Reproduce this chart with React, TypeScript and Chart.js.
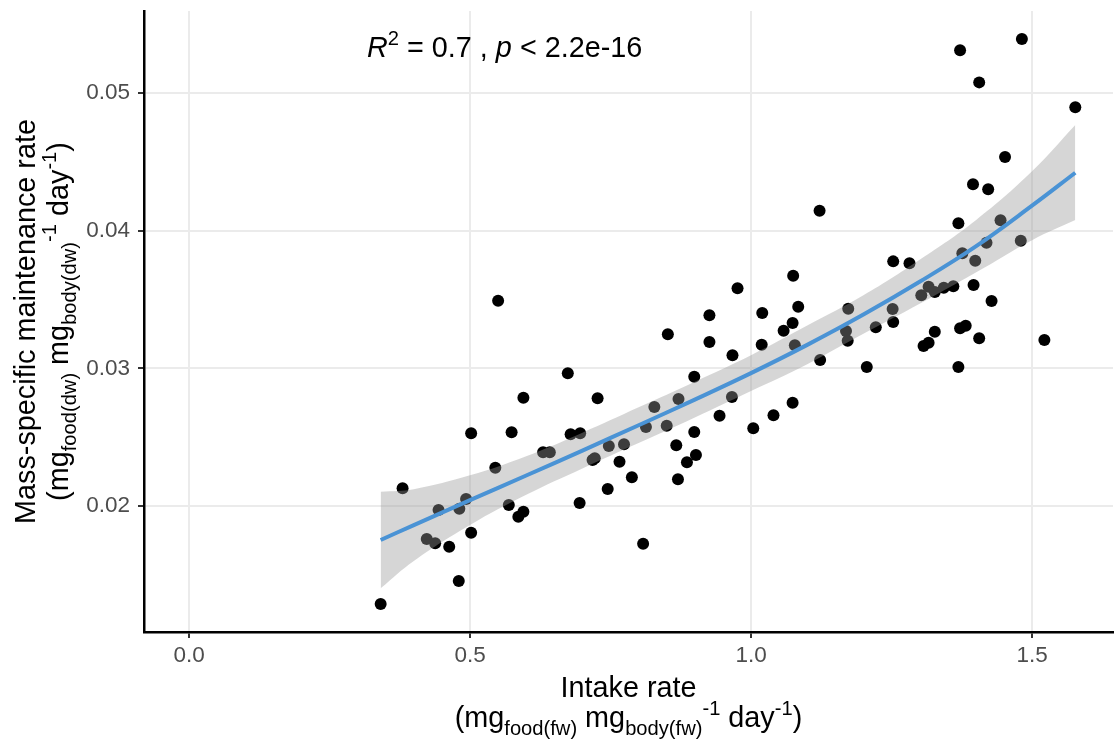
import React, { useEffect, useRef } from 'react';
import { Chart, registerables } from 'chart.js';

Chart.register(...registerables);

// ---- Data ----
const intakeRate = [
  0.341, 0.380, 0.423, 0.438, 0.444, 0.463, 0.480, 0.481, 0.493, 0.502,
  0.502, 0.545, 0.550, 0.569, 0.574, 0.586, 0.595, 0.595, 0.630, 0.642,
  0.674, 0.679, 0.696, 0.695, 0.718, 0.722, 0.727, 0.745, 0.747, 0.766,
  0.774, 0.788, 0.808, 0.813, 0.828, 0.850, 0.852, 0.867, 0.870, 0.871,
  0.886, 0.899, 0.899, 0.902, 0.926, 0.926, 0.944, 0.966, 0.967, 0.976,
  1.004, 1.019, 1.020, 1.040, 1.058, 1.074, 1.074, 1.075, 1.078, 1.084,
  1.122, 1.123, 1.169, 1.172, 1.173, 1.206, 1.222, 1.252, 1.253, 1.253,
  1.282, 1.303, 1.307, 1.316, 1.316, 1.327, 1.327, 1.343, 1.360, 1.369,
  1.369, 1.372, 1.372, 1.376, 1.382, 1.395, 1.396, 1.399, 1.406, 1.406,
  1.419, 1.422, 1.428, 1.444, 1.452, 1.480, 1.482, 1.522, 1.577,
];

const maintenanceRate = [
  0.01290, 0.02129, 0.01761, 0.01730, 0.01972, 0.01705, 0.01456, 0.01981, 0.02052, 0.02528,
  0.01807, 0.02279, 0.03491, 0.02008, 0.02536, 0.01923, 0.01959, 0.02787, 0.02390, 0.02390,
  0.02964, 0.02521, 0.02528, 0.02022, 0.02335, 0.02347, 0.02782, 0.02124, 0.02436, 0.02322,
  0.02448, 0.02209, 0.01727, 0.02574, 0.02719, 0.02583, 0.03247, 0.02441, 0.02194, 0.02777,
  0.02318, 0.02538, 0.02939, 0.02371, 0.03385, 0.03191, 0.02656, 0.02792, 0.03094, 0.03581,
  0.02565, 0.03171, 0.03401, 0.02659, 0.03273, 0.03329, 0.02750, 0.03672, 0.03167, 0.03447,
  0.04144, 0.03060, 0.03271, 0.03200, 0.03433, 0.03009, 0.03298, 0.03430, 0.03336, 0.03776,
  0.03762, 0.03530, 0.03162, 0.03186, 0.03592, 0.03554, 0.03266, 0.03585, 0.03595, 0.04052,
  0.03009, 0.05308, 0.03290, 0.03835, 0.03309, 0.04335, 0.03605, 0.03781, 0.05075, 0.03218,
  0.03911, 0.04299, 0.03488, 0.04074, 0.04533, 0.03926, 0.05390, 0.03205, 0.04894,
];

// smooth fit and its confidence band
const fitX = [0.341, 0.4, 0.5, 0.6, 0.7, 0.8, 0.9, 1.0, 1.1, 1.2, 1.3, 1.4, 1.5, 1.577];
const fitY = [0.01754, 0.01862, 0.02043, 0.02222, 0.02403, 0.02587, 0.02773, 0.02965, 0.03170, 0.03390, 0.03628, 0.03885, 0.04180, 0.04419];
const fitUpper = [0.02104, 0.02123, 0.02223, 0.02362, 0.02533, 0.02717, 0.02903, 0.03095, 0.03310, 0.03530, 0.03788, 0.04075, 0.04430, 0.04766];
const fitLower = [0.01404, 0.01602, 0.01863, 0.02082, 0.02273, 0.02457, 0.02643, 0.02835, 0.03030, 0.03250, 0.03468, 0.03695, 0.03930, 0.04076];

const xTicks = [0.0, 0.5, 1.0, 1.5];
const yTicks = [0.02, 0.03, 0.04, 0.05];
const xRange = [-0.0801, 1.6441];
const yRange = [0.010863, 0.05593];

const annotationPos = { x: 0.3167, y: 0.0526 };

const FAMILY = '"Liberation Sans", Arial, Helvetica, sans-serif';
const TITLE_SIZE = 28.8;
const TICK_SIZE = 22.5;

type Seg = { t: string; it?: boolean; s?: 'sub' | 'sup' };

const annotationSegs: Seg[] = [
  { t: 'R', it: true },
  { t: '2', s: 'sup' },
  { t: ' = 0.7 , ' },
  { t: 'p', it: true },
  { t: ' < 2.2e-16' },
];
const xTitle1: Seg[] = [{ t: 'Intake rate' }];
const xTitle2: Seg[] = [
  { t: '(mg' }, { t: 'food(fw)', s: 'sub' }, { t: ' mg' }, { t: 'body(fw)', s: 'sub' },
  { t: '-1', s: 'sup' }, { t: ' day' }, { t: '-1', s: 'sup' }, { t: ')' },
];
const yTitle1: Seg[] = [{ t: 'Mass-specific maintenance rate' }];
const yTitle2: Seg[] = [
  { t: '(mg' }, { t: 'food(dw)', s: 'sub' }, { t: ' mg' }, { t: 'body(dw)', s: 'sub' },
  { t: '-1', s: 'sup' }, { t: ' day' }, { t: '-1', s: 'sup' }, { t: ')' },
];

function fontFor(seg: Seg, F: number) {
  const size = seg.s ? F * 0.7 : F;
  return `${seg.it ? 'italic ' : ''}${size}px ${FAMILY}`;
}

function richWidth(ctx: CanvasRenderingContext2D, segs: Seg[], F: number) {
  let w = 0;
  for (const s of segs) {
    ctx.font = fontFor(s, F);
    w += ctx.measureText(s.t).width;
  }
  return w;
}

function drawRich(ctx: CanvasRenderingContext2D, segs: Seg[], F: number, x: number, y: number, align: 'center' | 'left') {
  const w = richWidth(ctx, segs, F);
  let cx = align === 'center' ? x - w / 2 : x;
  ctx.textBaseline = 'alphabetic';
  ctx.textAlign = 'left';
  for (const s of segs) {
    ctx.font = fontFor(s, F);
    const dy = s.s === 'sub' ? F * 0.28 : s.s === 'sup' ? -F * 0.42 : 0;
    ctx.fillText(s.t, cx, y + dy);
    cx += ctx.measureText(s.t).width;
  }
}

const titlesPlugin = {
  id: 'richTitles',
  afterDraw(chart: any) {
    const { ctx, chartArea, scales } = chart;
    ctx.save();
    ctx.fillStyle = '#000000';
    const cxMid = (chartArea.left + chartArea.right) / 2;
    const cyMid = (chartArea.top + chartArea.bottom) / 2;
    // x title
    drawRich(ctx, xTitle1, TITLE_SIZE, cxMid, chartArea.bottom + 65, 'center');
    drawRich(ctx, xTitle2, TITLE_SIZE, cxMid, chartArea.bottom + 95, 'center');
    // y title
    ctx.save();
    ctx.translate(35, cyMid);
    ctx.rotate(-Math.PI / 2);
    drawRich(ctx, yTitle1, TITLE_SIZE, 0, 0, 'center');
    ctx.restore();
    ctx.save();
    ctx.translate(68, cyMid);
    ctx.rotate(-Math.PI / 2);
    drawRich(ctx, yTitle2, TITLE_SIZE, 0, 0, 'center');
    ctx.restore();
    // annotation
    const ax = scales.x.getPixelForValue(annotationPos.x);
    const ay = scales.y.getPixelForValue(annotationPos.y);
    drawRich(ctx, annotationSegs, TITLE_SIZE, ax, ay, 'left');
    ctx.restore();
  },
};

function zeroPadding(s: any) {
  s.paddingTop = 0;
  s.paddingBottom = 0;
  s.paddingLeft = 0;
  s.paddingRight = 0;
}

export default function App() {
  const canvasRef = useRef<HTMLCanvasElement | null>(null);

  useEffect(() => {
    if (!canvasRef.current) return;
    const points = intakeRate.map((x, i) => ({ x, y: maintenanceRate[i] }));
    const fit = fitX.map((x, i) => ({ x, y: fitY[i] }));
    const upper = fitX.map((x, i) => ({ x, y: fitUpper[i] }));
    const lower = fitX.map((x, i) => ({ x, y: fitLower[i] }));

    const chart = new Chart(canvasRef.current, {
      type: 'line',
      data: {
        datasets: [
          {
            label: 'fit',
            data: fit,
            order: 0,
            borderColor: '#4A93D5',
            borderWidth: 4,
            pointRadius: 0,
            fill: false,
            tension: 0.4,
          } as any,
          {
            label: 'upper',
            data: upper,
            order: 1,
            borderWidth: 0,
            borderColor: 'rgba(0,0,0,0)',
            pointRadius: 0,
            fill: '+1',
            backgroundColor: 'rgba(153,153,153,0.4)',
            tension: 0.4,
          } as any,
          {
            label: 'lower',
            data: lower,
            order: 2,
            borderWidth: 0,
            borderColor: 'rgba(0,0,0,0)',
            pointRadius: 0,
            fill: false,
            tension: 0.4,
          } as any,
          {
            label: 'points',
            data: points,
            order: 3,
            showLine: false,
            pointRadius: 6,
            pointBorderWidth: 0,
            pointBackgroundColor: '#000000',
            pointBorderColor: '#000000',
            fill: false,
          } as any,
        ],
      },
      options: {
        responsive: false,
        animation: false,
        events: [],
        layout: { autoPadding: false, padding: { left: 0, right: 2, top: 11, bottom: 0 } },
        plugins: {
          legend: { display: false },
          tooltip: { enabled: false },
          title: { display: false },
        },
        scales: {
          x: {
            type: 'linear',
            min: xRange[0],
            max: xRange[1],
            afterFit: (s: any) => { s.height = 110; zeroPadding(s); },
            afterBuildTicks: (s: any) => { s.ticks = xTicks.map((v) => ({ value: v })); },
            ticks: {
              callback: (v: any) => Number(v).toFixed(1),
              font: { family: FAMILY, size: TICK_SIZE },
              color: '#4D4D4D',
              padding: 4,
              maxRotation: 0,
              autoSkip: false,
            },
            grid: { color: '#EBEBEB', lineWidth: 2, tickColor: '#333333', tickLength: 6, tickWidth: 2 },
            border: { display: true, color: '#000000', width: 2.5 },
          },
          y: {
            type: 'linear',
            min: yRange[0],
            max: yRange[1],
            afterFit: (s: any) => { s.width = 144; zeroPadding(s); },
            afterBuildTicks: (s: any) => { s.ticks = yTicks.map((v) => ({ value: v })); },
            ticks: {
              callback: (v: any) => Number(v).toFixed(2),
              font: { family: FAMILY, size: TICK_SIZE },
              color: '#4D4D4D',
              padding: 8,
              autoSkip: false,
            },
            grid: { color: '#EBEBEB', lineWidth: 2, tickColor: '#333333', tickLength: 6, tickWidth: 2 },
            border: { display: true, color: '#000000', width: 2.5 },
          },
        },
      } as any,
      plugins: [titlesPlugin],
    });
    return () => chart.destroy();
  }, []);

  return (
    <div style={{ position: 'fixed', left: 0, top: 0, width: 1115, height: 742, background: '#ffffff' }}>
      <canvas ref={canvasRef} width={1115} height={742} style={{ display: 'block' }} />
    </div>
  );
}
